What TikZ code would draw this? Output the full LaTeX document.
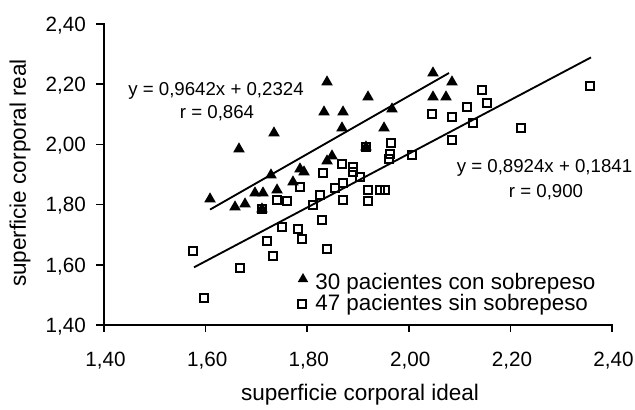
\documentclass[tikz,border=0pt]{standalone}
\usepackage{fontspec}
\setmainfont{Liberation Sans}
\usetikzlibrary{shapes.geometric}
\begin{document}
\begin{tikzpicture}[x=381pt,y=225.75pt,
  tri/.style={regular polygon, regular polygon sides=3, fill=black, draw=none, inner sep=0pt, minimum size=10pt},
  sq/.style={rectangle, draw=black, line width=1.5pt, inner sep=0pt, minimum size=6.6pt},
  axisline/.style={line width=1.2pt, line cap=rect},
  fitline/.style={line width=1.4pt},
  ticklab/.style={font=\fontsize{15.5}{18}\selectfont, inner sep=0pt},
  eqlab/.style={font=\fontsize{14}{16}\selectfont, inner sep=0pt, anchor=base},
  leglab/.style={font=\fontsize{16.8}{19}\selectfont, inner sep=0pt, anchor=base west},
  axlab/.style={font=\fontsize{16.9}{19}\selectfont, inner sep=0pt}]
\useasboundingbox (1.19528,1.11761) rectangle (2.44528,2.47973);
\fill[white] (1.19528,1.11761) rectangle (2.44528,2.47973);
% axes
\coordinate (O) at (1.4,1.4);
\coordinate (Ytop) at (1.4,2.4);
\coordinate (Xend) at (2.4,1.4);
\draw[axisline] (Ytop) -- (O) -- (Xend);
\foreach \v/\l [count=\i] in {1.4/{1,40},1.6/{1,60},1.8/{1,80},2.0/{2,00},2.2/{2,20},2.4/{2,40}}{
  \draw[axisline] (1.4,\v) -- (1.3862,\v);
  \node[ticklab, anchor=base east] (yl\i) at (1.3646,{\v-0.0246}) {\l};
  \draw[axisline] (\v,1.4) -- (\v,1.3801);
  \node[ticklab, anchor=base] (xl\i) at ({\v+0.003},1.2605) {\l};
}
\node[axlab, rotate=90] (ylab) at (1.2346,1.905) {superficie corporal real};
\node[axlab] (xlab) at (1.9039,1.1674) {superficie corporal ideal};
% regression lines
\coordinate (u1) at (1.6087,1.7835);
\coordinate (u2) at (2.0791,2.2371);
\coordinate (l1) at (1.5772,1.5916);
\coordinate (l2) at (2.3587,2.2890);
\draw[fitline] (u1) -- (u2);
\draw[fitline] (l1) -- (l2);
% equations
\node[eqlab] (equ) at (1.6205,2.1641) {y = 0,9642x + 0,2324};
\node[eqlab] (ru) at (1.6225,2.0844) {r = 0,864};
\node[eqlab] (eql) at (2.2671,1.9050) {y = 0,8924x + 0,1841};
\node[eqlab] (rl) at (2.2701,1.8252) {r = 0,900};
% squares (sin sobrepeso)
\foreach \x/\y [count=\i] in {
1.5752/1.6458, 1.5969/1.4897, 1.6677/1.5894, 1.7209/1.6791, 1.7327/1.6292,
1.7504/1.7256, 1.7819/1.7189, 1.7898/1.6857, 1.8114/1.7987, 1.8291/1.7488,
1.7406/1.8153, 1.7602/1.8120, 1.7858/1.8585, 1.8252/1.8319, 1.8311/1.9050,
1.8685/1.9349, 1.8902/1.9249, 1.8902/1.9083, 1.9039/1.8917, 1.8705/1.8718,
1.8547/1.8551, 1.9197/1.8485, 1.9433/1.8485, 1.9531/1.8485, 1.8705/1.8153,
1.9197/1.8120, 1.9650/2.0047, 1.9630/1.9681, 1.9610/1.9515, 2.0063/1.9648,
1.8390/1.6525, 2.1441/2.1807, 2.3567/2.1940, 2.1539/2.1375, 2.1146/2.1243,
2.0457/2.1010, 2.0850/2.0910, 2.1264/2.0711, 2.2209/2.0545, 2.0850/2.0146,
1.9157/1.9914, 1.7110/1.7854}{
  \node[sq] (s\i) at (\x,\y) {};
}
% triangles (con sobrepeso)
\foreach \x/\y [count=\i] in {
1.6087/1.8186, 1.6657/1.9847, 1.7346/2.0379, 1.8390/2.2073, 1.9197/2.1575,
1.8331/2.1076, 1.8705/2.1076, 1.8685/2.0545, 1.9669/2.1176, 1.9512/2.0545,
1.9157/1.9914, 1.8488/1.9615, 1.8390/1.9449, 2.0476/2.2372, 2.0850/2.2073,
2.0476/2.1575, 2.0732/2.1575, 1.6579/1.7920, 1.6776/1.8020, 1.6972/1.8385,
1.7130/1.8385, 1.7110/1.7854, 1.7287/1.8983, 1.7406/1.8485, 1.7720/1.8751,
1.7858/1.9183, 1.7937/1.9083}{
  \node[tri] (t\i) at (\x,\y) {};
}
% legend
\node[tri, minimum size=9pt] (legt) at (1.7917,1.5528) {};
\node[sq, minimum size=5.8pt] (legs) at (1.7898,1.4698) {};
\node[leglab] (legtt) at (1.8154,1.5163) {30 pacientes con sobrepeso};
\node[leglab] (legst) at (1.8154,1.4465) {47 pacientes sin sobrepeso};
\end{tikzpicture}
\end{document}
